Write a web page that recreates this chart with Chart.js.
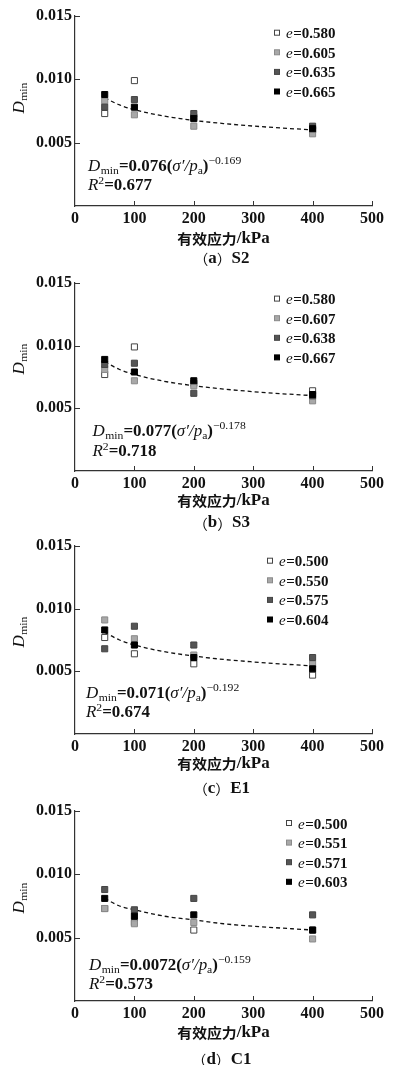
<!DOCTYPE html>
<html>
<head>
<meta charset="utf-8">
<script src="https://cdn.jsdelivr.net/npm/chart.js@4.4.0/dist/chart.umd.min.js"></script>
<style>
  body { margin: 0; background: #fff; }
  #wrap { position: relative; width: 397px; height: 1069px; overflow: hidden; }
  #wrap canvas { position: absolute; left: 0; }
</style>
</head>
<body>
<div id="wrap"></div>
<script>
// effective stress (kPa) of the test points and of the fitted curve
const stress = [50, 100, 200, 400];
const fitStress = [50, 75, 100, 150, 200, 250, 300, 350, 400];
const xTicks = [0, 100, 200, 300, 400, 500];
const yTicks = [0.005, 0.010, 0.015];

// (a) S2
const s2Labels = ['0.580', '0.605', '0.635', '0.665'];
const s2e1 = [0.0073, 0.0099, 0.0070, 0.0060];
const s2e2 = [0.0083, 0.0072, 0.0063, 0.0057];
const s2e3 = [0.0078, 0.0084, 0.0073, 0.0063];
const s2e4 = [0.0088, 0.0078, 0.0069, 0.0061];
const s2Fit = [0.00854, 0.00798, 0.0076, 0.00710, 0.00676, 0.00651, 0.00631, 0.00615, 0.00601];

// (b) S3
const s3Labels = ['0.580', '0.607', '0.638', '0.667'];
const s3e1 = [0.0077, 0.0099, 0.0070, 0.0064];
const s3e2 = [0.0081, 0.0072, 0.0068, 0.0056];
const s3e3 = [0.0085, 0.0086, 0.0062, 0.0060];
const s3e4 = [0.0089, 0.0079, 0.0072, 0.0061];
const s3Fit = [0.00871, 0.00810, 0.0077, 0.00716, 0.00681, 0.00654, 0.00633, 0.00616, 0.00602];

// (c) E1
const e1Labels = ['0.500', '0.550', '0.575', '0.604'];
const e1e1 = [0.0077, 0.0064, 0.0056, 0.0047];
const e1e2 = [0.0091, 0.0076, 0.0063, 0.0056];
const e1e3 = [0.0068, 0.0086, 0.0071, 0.0061];
const e1e4 = [0.0083, 0.0071, 0.0061, 0.0052];
const e1Fit = [0.00811, 0.00750, 0.0071, 0.00657, 0.00622, 0.00595, 0.00575, 0.00558, 0.00544];

// (d) C1
const c1Labels = ['0.500', '0.551', '0.571', '0.603'];
const c1e1 = [0.0073, 0.0062, 0.0056, 0.0056];
const c1e2 = [0.0073, 0.0061, 0.0062, 0.0049];
const c1e3 = [0.0088, 0.0072, 0.0081, 0.0068];
const c1e4 = [0.0081, 0.0067, 0.0068, 0.0056];
const c1Fit = [0.0081, 0.0075, 0.0072, 0.0067, 0.0064, 0.0061, 0.0059, 0.00575, 0.0056];

const SERIF = '"Liberation Serif", "Times New Roman", serif';
const CJK = '"Noto Sans CJK SC", sans-serif';
const markFill = ['#ffffff', '#a8a8a8', '#555555', '#000000'];
const markEdge = ['#444444', '#8a8a8a', '#444444', '#000000'];

const panels = [
  { tag: 'a', name: 'S2', labels: s2Labels, series: [s2e1, s2e2, s2e3, s2e4], fit: s2Fit,
    coef: '0.076', expo: '\u22120.169', r2: '0.677',
    top: 16, plotH: 190, legX: 277, legY: 16.7, eqX: 88, eqY: 154.5, yT: 82, xT: 33, cap: 53 },
  { tag: 'b', name: 'S3', labels: s3Labels, series: [s3e1, s3e2, s3e3, s3e4], fit: s3Fit,
    coef: '0.077', expo: '\u22120.178', r2: '0.718',
    top: 283, plotH: 188, legX: 277, legY: 15.6, eqX: 92.5, eqY: 153.3, yT: 76, xT: 29.5, cap: 52.3 },
  { tag: 'c', name: 'E1', labels: e1Labels, series: [e1e1, e1e2, e1e3, e1e4], fit: e1Fit,
    coef: '0.071', expo: '\u22120.192', r2: '0.674',
    top: 546, plotH: 188, legX: 270, legY: 14.7, eqX: 86, eqY: 151.7, yT: 86, xT: 29.5, cap: 54.7 },
  { tag: 'd', name: 'C1', labels: c1Labels, series: [c1e1, c1e2, c1e3, c1e4], fit: c1Fit,
    coef: '0.0072', expo: '\u22120.159', r2: '0.573',
    top: 811, plotH: 190, legX: 289, legY: 12, eqX: 89, eqY: 158.7, yT: 87, xT: 31.6, cap: 58.6 }
];

const CANVAS_H = 270;
const PAD_TOP = 16;
const STRETCH = 1.06; // the source typeface is a little wider than Liberation Serif

// draws a row of differently styled text pieces, returns end x
function drawRuns(ctx, x, y, runs, sx = STRETCH) {
  runs.forEach(r => {
    ctx.font = r.font;
    ctx.save();
    ctx.translate(x, y + (r.dy || 0));
    ctx.scale(sx, 1);
    ctx.fillText(r.text, 0, 0);
    ctx.restore();
    x += ctx.measureText(r.text).width * sx + (r.gap || 0);
  });
  return x;
}
function runsWidth(ctx, runs, sx = STRETCH) {
  let w = 0;
  runs.forEach(r => { ctx.font = r.font; w += ctx.measureText(r.text).width * sx + (r.gap || 0); });
  return w;
}

const F = {
  bold: 'bold 16px ' + SERIF,
  ital: 'italic 16px ' + SERIF,
  legBold: 'bold 15px ' + SERIF,
  legItal: 'italic 15px ' + SERIF,
  sub: '11px ' + SERIF,
  cjk: 'bold 14px ' + CJK,
  cjkParen: '14px ' + CJK
};

// inward ticks, legend, equation, axis titles and caption
const decorPlugin = {
  id: 'decor',
  afterDraw(chart) {
    const p = chart.options.plugins.decor.panel;
    const ctx = chart.ctx;
    const ca = chart.chartArea;
    const xs = chart.scales.x, ys = chart.scales.y;
    ctx.save();

    // tick marks pointing into the plot
    ctx.strokeStyle = '#333';
    ctx.lineWidth = 1;
    ctx.beginPath();
    xTicks.slice(1).forEach(v => {
      const px = Math.round(xs.getPixelForValue(v)) + 0.5;
      ctx.moveTo(px, ca.bottom); ctx.lineTo(px, ca.bottom - 5);
    });
    yTicks.forEach(v => {
      const py = Math.round(ys.getPixelForValue(v)) + 0.5;
      ctx.moveTo(ca.left - 1, py); ctx.lineTo(ca.left + 5, py);
    });
    ctx.stroke();

    ctx.fillStyle = '#111';
    ctx.textBaseline = 'alphabetic';
    ctx.textAlign = 'left';

    // legend
    p.labels.forEach((lab, i) => {
      const cy = ca.top + p.legY + i * 19.6;
      ctx.fillStyle = markFill[i];
      ctx.strokeStyle = markEdge[i];
      ctx.fillRect(p.legX - 2.5, cy - 2.5, 5, 5);
      ctx.strokeRect(p.legX - 2.5, cy - 2.5, 5, 5);
      ctx.fillStyle = '#111';
      drawRuns(ctx, p.legX + 9, cy + 5.5, [
        { text: 'e', font: F.legItal, gap: 0.5 },
        { text: '=' + lab, font: F.legBold }
      ], 1);
    });

    // fitted equation
    const ey = ca.top + p.eqY;
    drawRuns(ctx, p.eqX, ey, [
      { text: 'D', font: F.ital, gap: 0.5 },
      { text: 'min', font: F.sub, dy: 3 },
      { text: '=' + p.coef + '(', font: F.bold },
      { text: '\u03c3\u2032/', font: F.ital },
      { text: 'p', font: F.ital },
      { text: 'a', font: F.sub, dy: 3 },
      { text: ')', font: F.bold },
      { text: p.expo, font: F.sub, dy: -7 }
    ]);
    drawRuns(ctx, p.eqX, ey + 19.5, [
      { text: 'R', font: F.ital },
      { text: '2', font: F.sub, dy: -6 },
      { text: '=' + p.r2, font: F.bold }
    ]);

    // y axis title, rotated
    const yRuns = [
      { text: 'D', font: F.ital, gap: 0.5 },
      { text: 'min', font: F.sub, dy: 3 }
    ];
    ctx.save();
    ctx.translate(23.5, ca.top + p.yT);
    ctx.rotate(-Math.PI / 2);
    drawRuns(ctx, -runsWidth(ctx, yRuns) / 2, 0, yRuns);
    ctx.restore();

    // x axis title
    const cx = (ca.left + ca.right) / 2;
    ctx.textBaseline = 'middle';
    const xRuns = [
      { text: '有效应力', font: F.cjk },
      { text: '/kPa', font: F.bold }
    ];
    drawRuns(ctx, cx - runsWidth(ctx, xRuns) / 2, ca.bottom + p.xT, xRuns);

    // caption
    const capRuns = [
      { text: '\uff08', font: F.cjkParen },
      { text: p.tag, font: F.bold },
      { text: '\uff09', font: F.cjkParen },
      { text: p.name, font: F.bold }
    ];
    drawRuns(ctx, cx - 2 - runsWidth(ctx, capRuns) / 2, ca.bottom + p.cap, capRuns);

    ctx.restore();
  }
};

const wrap = document.getElementById('wrap');

panels.forEach(p => {
  const canvas = document.createElement('canvas');
  canvas.width = 397;
  canvas.height = CANVAS_H;
  canvas.style.top = (p.top - PAD_TOP) + 'px';
  wrap.appendChild(canvas);

  const datasets = p.series.map((vals, i) => ({
    label: 'e=' + p.labels[i],
    data: stress.map((x, k) => ({ x: x, y: vals[k] })),
    pointStyle: 'rect',
    pointRadius: 4.3,
    pointBackgroundColor: markFill[i],
    pointBorderColor: markEdge[i],
    pointBorderWidth: 1,
    order: 5 - i
  }));
  datasets.push({
    label: 'fit',
    data: fitStress.map((x, k) => ({ x: x, y: p.fit[k] })),
    showLine: true,
    pointRadius: 0,
    borderColor: '#111',
    borderWidth: 1.3,
    borderDash: [4, 3],
    cubicInterpolationMode: 'monotone',
    order: 9
  });

  new Chart(canvas.getContext('2d'), {
    type: 'scatter',
    data: { datasets: datasets },
    options: {
      responsive: false,
      animation: false,
      events: [],
      layout: { padding: { top: PAD_TOP, right: 25, left: 0, bottom: 0 } },
      scales: {
        x: {
          type: 'linear',
          min: 0,
          max: 500,
          afterBuildTicks: s => { s.ticks = xTicks.map(v => ({ value: v })); },
          afterFit: s => { s.height = CANVAS_H - PAD_TOP - p.plotH; },
          grid: { display: false, drawTicks: false },
          border: { display: true, color: '#333', width: 1.2 },
          ticks: {
            padding: 3,
            color: '#111',
            font: { family: SERIF, size: 16, weight: 'bold' },
            maxRotation: 0,
            callback: v => String(v)
          }
        },
        y: {
          type: 'linear',
          min: 0,
          max: 0.015,
          afterBuildTicks: s => { s.ticks = [0].concat(yTicks).map(v => ({ value: v })); },
          afterFit: s => { s.width = 75; },
          grid: { display: false, drawTicks: false },
          border: { display: true, color: '#333', width: 1.2 },
          ticks: {
            padding: 3,
            color: '#111',
            font: { family: SERIF, size: 16, weight: 'bold' },
            callback: v => (v === 0 ? '' : v.toFixed(3))
          }
        }
      },
      plugins: {
        legend: { display: false },
        tooltip: { enabled: false },
        decor: { panel: p }
      }
    },
    plugins: [decorPlugin]
  });
});
</script>
</body>
</html>
